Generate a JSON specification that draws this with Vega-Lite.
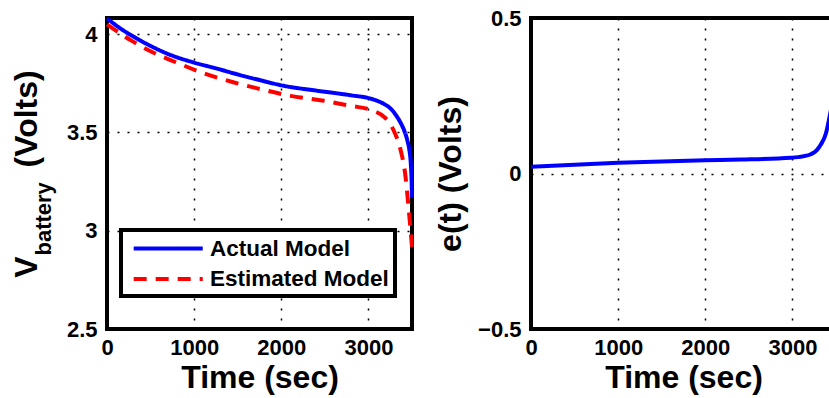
{
  "$schema": "https://vega.github.io/schema/vega-lite/v6.json",
  "background": "white",
  "padding": {"left": 8, "top": 5, "right": 0, "bottom": 0},
  "datasets": {
    "voltage": [
      {"t": 0, "v": 4.08, "model": "Actual Model"},
      {"t": 150, "v": 4.03, "model": "Actual Model"},
      {"t": 313, "v": 3.985, "model": "Actual Model"},
      {"t": 500, "v": 3.94, "model": "Actual Model"},
      {"t": 695, "v": 3.9, "model": "Actual Model"},
      {"t": 1000, "v": 3.855, "model": "Actual Model"},
      {"t": 1250, "v": 3.826, "model": "Actual Model"},
      {"t": 1458, "v": 3.8, "model": "Actual Model"},
      {"t": 1700, "v": 3.772, "model": "Actual Model"},
      {"t": 2031, "v": 3.737, "model": "Actual Model"},
      {"t": 2413, "v": 3.712, "model": "Actual Model"},
      {"t": 2795, "v": 3.689, "model": "Actual Model"},
      {"t": 3024, "v": 3.672, "model": "Actual Model"},
      {"t": 3177, "v": 3.645, "model": "Actual Model"},
      {"t": 3253, "v": 3.622, "model": "Actual Model"},
      {"t": 3320, "v": 3.585, "model": "Actual Model"},
      {"t": 3368, "v": 3.55, "model": "Actual Model"},
      {"t": 3410, "v": 3.51, "model": "Actual Model"},
      {"t": 3444, "v": 3.464, "model": "Actual Model"},
      {"t": 3470, "v": 3.41, "model": "Actual Model"},
      {"t": 3485, "v": 3.35, "model": "Actual Model"},
      {"t": 3495, "v": 3.26, "model": "Actual Model"},
      {"t": 3500, "v": 3.17, "model": "Actual Model"},
      {"t": 0, "v": 4.05, "model": "Estimated Model"},
      {"t": 275, "v": 3.968, "model": "Estimated Model"},
      {"t": 523, "v": 3.908, "model": "Estimated Model"},
      {"t": 790, "v": 3.857, "model": "Estimated Model"},
      {"t": 1077, "v": 3.806, "model": "Estimated Model"},
      {"t": 1458, "v": 3.754, "model": "Estimated Model"},
      {"t": 1726, "v": 3.724, "model": "Estimated Model"},
      {"t": 2107, "v": 3.686, "model": "Estimated Model"},
      {"t": 2489, "v": 3.661, "model": "Estimated Model"},
      {"t": 2795, "v": 3.635, "model": "Estimated Model"},
      {"t": 3024, "v": 3.615, "model": "Estimated Model"},
      {"t": 3177, "v": 3.58, "model": "Estimated Model"},
      {"t": 3240, "v": 3.55, "model": "Estimated Model"},
      {"t": 3300, "v": 3.5, "model": "Estimated Model"},
      {"t": 3368, "v": 3.413, "model": "Estimated Model"},
      {"t": 3425, "v": 3.277, "model": "Estimated Model"},
      {"t": 3463, "v": 3.106, "model": "Estimated Model"},
      {"t": 3500, "v": 2.918, "model": "Estimated Model"}
    ],
    "error": [
      {"t": 0, "e": 0.022},
      {"t": 1000, "e": 0.0345},
      {"t": 2000, "e": 0.043},
      {"t": 2408, "e": 0.045},
      {"t": 2982, "e": 0.0506},
      {"t": 3120, "e": 0.055},
      {"t": 3211, "e": 0.062},
      {"t": 3280, "e": 0.075},
      {"t": 3326, "e": 0.093},
      {"t": 3383, "e": 0.128},
      {"t": 3421, "e": 0.175},
      {"t": 3450, "e": 0.22},
      {"t": 3480, "e": 0.3},
      {"t": 3500, "e": 0.38}
    ]
  },
  "hconcat": [
    {
      "width": 305,
      "height": 311,
      "data": {"name": "voltage"},
      "encoding": {
        "x": {
          "field": "t",
          "type": "quantitative",
          "scale": {"domain": [0, 3500], "nice": false, "zero": false},
          "axis": {
            "values": [0, 1000, 2000, 3000],
            "format": "d",
            "grid": true,
            "title": "Time (sec)",
            "titleX": 152.5,
            "titleY": 58,
            "titleAlign": "center",
            "titleBaseline": "alphabetic"
          }
        },
        "color": {
          "field": "model",
          "type": "nominal",
          "scale": {"domain": ["Actual Model", "Estimated Model"], "range": ["#0000ff", "#ff0000"]},
          "legend": {"title": null}
        },
        "strokeDash": {
          "field": "model",
          "type": "nominal",
          "scale": {"domain": ["Actual Model", "Estimated Model"], "range": [[1, 0], [13, 9]]},
          "legend": {"title": null}
        }
      },
      "layer": [
        {
          "transform": [{"filter": "datum.model === 'Estimated Model'"}],
          "mark": {"type": "line", "strokeWidth": 4, "interpolate": "monotone"},
          "encoding": {
            "y": {
              "field": "v",
              "type": "quantitative",
              "scale": {"domain": [2.5, 4.082], "nice": false, "zero": false},
              "axis": {
                "orient": "left",
                "title": "battery",
                "titleFontSize": 22,
                "titleX": -57,
                "titleY": 237,
                "titleAngle": -90,
                "titleAlign": "left",
                "titleBaseline": "alphabetic",
                "labels": false,
                "grid": false,
                "ticks": false,
                "domain": false
              }
            }
          }
        },
        {
          "transform": [{"filter": "datum.model === 'Actual Model'"}],
          "mark": {"type": "line", "strokeWidth": 4, "interpolate": "monotone"},
          "encoding": {
            "y": {
              "field": "v",
              "type": "quantitative",
              "scale": {"domain": [2.5, 4.082], "nice": false, "zero": false},
              "axis": {
                "orient": "left",
                "values": [2.5, 3, 3.5, 4],
                "format": "~g",
                "grid": true,
                "title": "V\u00a0\u00a0\u00a0\u00a0\u00a0\u00a0\u00a0\u00a0\u00a0\u00a0(Volts)",
                "titleX": -71,
                "titleY": 155.5,
                "titleAngle": -90,
                "titleAlign": "center",
                "titleBaseline": "alphabetic"
              }
            }
          }
        }
      ],
      "resolve": {"axis": {"y": "independent"}}
    },
    {
      "width": 305,
      "height": 311,
      "data": {"name": "error"},
      "mark": {"type": "line", "strokeWidth": 4, "color": "#0000ff", "interpolate": "monotone"},
      "encoding": {
        "x": {
          "field": "t",
          "type": "quantitative",
          "scale": {"domain": [0, 3500], "nice": false, "zero": false},
          "axis": {
            "values": [0, 1000, 2000, 3000],
            "format": "d",
            "grid": true,
            "title": "Time (sec)",
            "titleX": 152.5,
            "titleY": 58,
            "titleAlign": "center",
            "titleBaseline": "alphabetic"
          }
        },
        "y": {
          "field": "e",
          "type": "quantitative",
          "scale": {"domain": [-0.5, 0.5], "nice": false, "zero": false},
          "axis": {
            "values": [-0.5, 0, 0.5],
            "format": "~g",
            "grid": true,
            "title": "e(t) (Volts)",
            "titleX": -71,
            "titleY": 155.5,
            "titleAngle": -90,
            "titleAlign": "center",
            "titleBaseline": "alphabetic"
          }
        }
      }
    }
  ],
  "spacing": 119,
  "bounds": "flush",
  "config": {
    "font": "Liberation Sans",
    "view": {"stroke": "black", "strokeWidth": 4},
    "axis": {
      "labelFont": "Liberation Sans",
      "labelFontWeight": "bold",
      "labelFontSize": 22,
      "labelColor": "black",
      "labelFlush": false,
      "labelOverlap": false,
      "labelPadding": 10,
      "titleFont": "Liberation Sans",
      "titleFontWeight": "bold",
      "titleFontSize": 32,
      "titleColor": "black",
      "domain": false,
      "ticks": false,
      "gridColor": "black",
      "gridDash": [2, 8],
      "gridWidth": 1.5,
      "gridOpacity": 1
    },
    "axisX": {"labelPadding": 8},
    "legend": {
      "orient": "none",
      "legendX": 14,
      "legendY": 212,
      "strokeColor": "black",
      "strokeWidth": 4,
      "fillColor": "white",
      "padding": 5.5,
      "cornerRadius": 0,
      "symbolType": "M-0.53,0H5.75",
      "symbolSize": 484,
      "symbolStrokeWidth": 4,
      "labelFont": "Liberation Sans",
      "labelFontWeight": "bold",
      "labelFontSize": 22.5,
      "labelColor": "black",
      "labelOffset": 57.5,
      "labelLimit": 0,
      "rowPadding": 5.5
    }
  }
}
